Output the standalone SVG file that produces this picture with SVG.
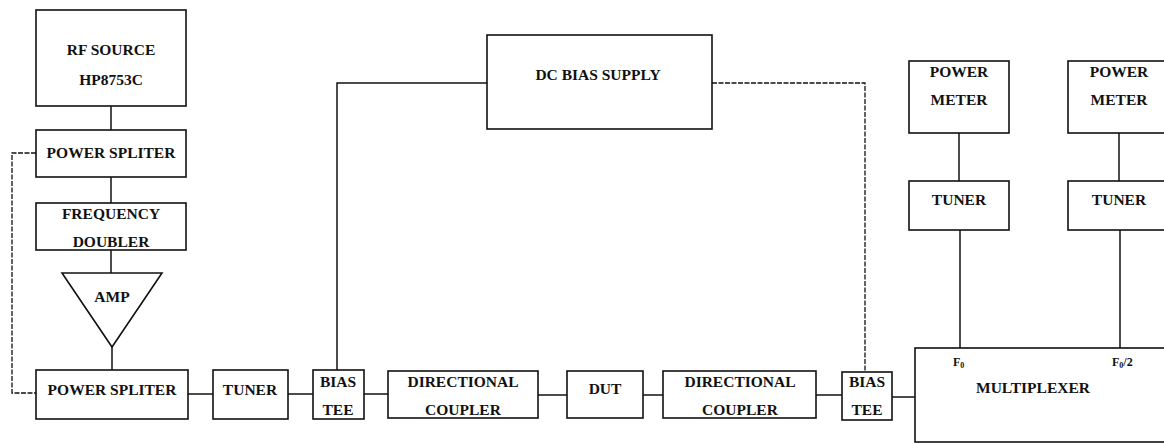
<svg xmlns="http://www.w3.org/2000/svg" width="1164" height="444" viewBox="0 0 1164 444">
<style>
.b{fill:#fff;stroke:#111;stroke-width:1.6}
.c{fill:none;stroke:#111;stroke-width:1.5}
.d{fill:none;stroke:#111;stroke-width:1.3;stroke-dasharray:5,1.5}
text{font-family:"Liberation Serif","Times New Roman",serif;font-weight:bold;font-size:15.5px;fill:#111;text-anchor:middle}
.s{font-size:12px;text-anchor:start}
</style>
<rect width="1164" height="444" fill="#fff"/>
<g id="connectors">
<line class="c" x1="111" y1="106" x2="111" y2="130"/>
<line class="c" x1="111" y1="177" x2="111" y2="203"/>
<line class="c" x1="111" y1="250" x2="111" y2="273"/>
<line class="c" x1="112" y1="347" x2="112" y2="370"/>
<polyline class="d" points="36,153 12,153 12,393 36,393"/>
<line class="c" x1="188" y1="394" x2="213" y2="394"/>
<line class="c" x1="288" y1="394" x2="313" y2="394"/>
<line class="c" x1="364" y1="394" x2="388" y2="394"/>
<line class="c" x1="538" y1="395" x2="567" y2="395"/>
<line class="c" x1="643" y1="395" x2="663" y2="395"/>
<line class="c" x1="816" y1="395" x2="842" y2="395"/>
<line class="c" x1="892" y1="397" x2="915" y2="397"/>
<polyline class="c" points="487,83 337,83 337,370"/>
<polyline class="d" points="712,83 865,83 865,372"/>
<line class="c" x1="959" y1="133" x2="959" y2="181"/>
<line class="c" x1="1119" y1="133" x2="1119" y2="181"/>
<line class="c" x1="960" y1="230" x2="960" y2="348"/>
<line class="c" x1="1120" y1="230" x2="1120" y2="348"/>
</g>
<g id="rf-source"><rect class="b" x="36" y="10" width="150" height="96"/><text x="111" y="55">RF SOURCE</text><text x="111" y="85">HP8753C</text></g>
<g id="splitter-top"><rect class="b" x="36" y="130" width="150" height="47"/><text x="111" y="158">POWER SPLITER</text></g>
<g id="doubler"><rect class="b" x="36" y="203" width="150" height="47"/><text x="111" y="219">FREQUENCY</text><text x="111" y="247">DOUBLER</text></g>
<g id="amp"><polygon class="b" points="62,273 162,273 112,347"/><text x="112" y="302">AMP</text></g>
<g id="splitter-bottom"><rect class="b" x="36" y="370" width="152" height="49"/><text x="112" y="395">POWER SPLITER</text></g>
<g id="tuner-main"><rect class="b" x="213" y="370" width="75" height="49"/><text x="250" y="395">TUNER</text></g>
<g id="bias-tee-1"><rect class="b" x="313" y="370" width="51" height="49"/><text x="338" y="387">BIAS</text><text x="338" y="415">TEE</text></g>
<g id="coupler-1"><rect class="b" x="388" y="371" width="150" height="47"/><text x="463" y="387">DIRECTIONAL</text><text x="463" y="415">COUPLER</text></g>
<g id="dut"><rect class="b" x="567" y="371" width="76" height="47"/><text x="605" y="394">DUT</text></g>
<g id="coupler-2"><rect class="b" x="663" y="371" width="153" height="47"/><text x="740" y="387">DIRECTIONAL</text><text x="740" y="415">COUPLER</text></g>
<g id="bias-tee-2"><rect class="b" x="842" y="372" width="50" height="48"/><text x="867" y="387">BIAS</text><text x="867" y="415">TEE</text></g>
<g id="multiplexer"><rect class="b" x="915" y="348" width="260" height="94"/><text x="1033" y="393">MULTIPLEXER</text><text class="s" x="953" y="366">F<tspan font-size="8" dy="2">0</tspan></text><text class="s" x="1112" y="366">F<tspan font-size="8" dy="2">0</tspan><tspan dy="-2">/2</tspan></text></g>
<g id="dc-bias"><rect class="b" x="487" y="35" width="225" height="94"/><text x="598" y="80">DC BIAS SUPPLY</text></g>
<g id="power-meter-1"><rect class="b" x="909" y="61" width="100" height="72"/><text x="959" y="77">POWER</text><text x="959" y="105">METER</text></g>
<g id="tuner-1"><rect class="b" x="909" y="181" width="100" height="49"/><text x="959" y="205">TUNER</text></g>
<g id="power-meter-2"><rect class="b" x="1068" y="61" width="102" height="72"/><text x="1119" y="77">POWER</text><text x="1119" y="105">METER</text></g>
<g id="tuner-2"><rect class="b" x="1068" y="181" width="102" height="49"/><text x="1119" y="205">TUNER</text></g>
</svg>
